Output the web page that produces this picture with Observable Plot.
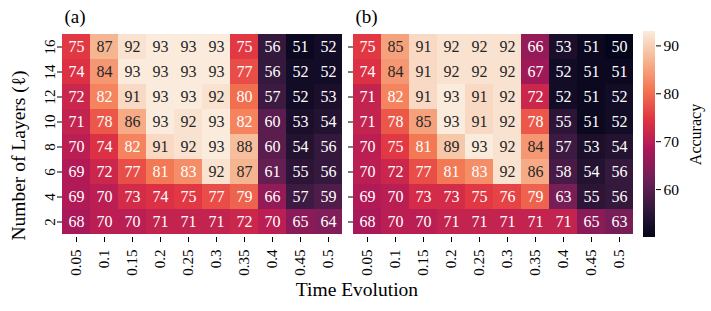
<!DOCTYPE html>
<html>
<head>
<meta charset="utf-8">
<script src="https://cdn.jsdelivr.net/npm/d3@7"></script>
<script src="https://cdn.jsdelivr.net/npm/@observablehq/plot@0.6"></script>
<style>
  body { margin: 0; background: #fff; }
  #wrap { position: relative; width: 711px; height: 311px; font-family: "Liberation Serif", "DejaVu Serif", serif; }
  #wrap svg { position: absolute; top: 0; }
  #wrap svg, #wrap svg text { font-family: "Liberation Serif", "DejaVu Serif", serif !important; }
  #xlabel { position: absolute; top: 279px; left: 257px; width: 200px; text-align: center; font-size: 19.5px; line-height: 22px; color: #000; }
</style>
</head>
<body>
<div id="wrap"></div>
<script>
const times = ["0.05", "0.1", "0.15", "0.2", "0.25", "0.3", "0.35", "0.4", "0.45", "0.5"];
const layers = ["16", "14", "12", "10", "8", "6", "4", "2"];
const accA = [
  [75, 87, 92, 93, 93, 93, 75, 56, 51, 52],
  [74, 84, 93, 93, 93, 93, 77, 56, 52, 52],
  [72, 82, 91, 93, 93, 92, 80, 57, 52, 53],
  [71, 78, 86, 93, 92, 93, 82, 60, 53, 54],
  [70, 74, 82, 91, 92, 93, 88, 60, 54, 56],
  [69, 72, 77, 81, 83, 92, 87, 61, 55, 56],
  [69, 70, 73, 74, 75, 77, 79, 66, 57, 59],
  [68, 70, 70, 71, 71, 71, 72, 70, 65, 64]
];
const accB = [
  [75, 85, 91, 92, 92, 92, 66, 53, 51, 50],
  [74, 84, 91, 92, 92, 92, 67, 52, 51, 51],
  [71, 82, 91, 93, 91, 92, 72, 52, 51, 52],
  [71, 78, 85, 93, 91, 92, 78, 55, 51, 52],
  [70, 75, 81, 89, 93, 92, 84, 57, 53, 54],
  [70, 72, 77, 81, 83, 92, 86, 58, 54, 56],
  [69, 70, 73, 73, 75, 76, 79, 63, 55, 56],
  [68, 70, 70, 71, 71, 71, 71, 71, 65, 63]
];
const colorTicks = [60, 70, 80, 90];
const colorDomain = [50, 93];

// seaborn "rocket" colormap approximated by its palette stops
const rocketStops = ["#03051a", "#35193e", "#701f57", "#ad1759", "#e13342", "#f37651", "#f6b48f", "#faebdd"];
const rocket = d3.piecewise(d3.interpolateRgb, rocketStops);

function lum(c) {
  const rgb = d3.rgb(c);
  const f = v => { v /= 255; return v <= 0.03928 ? v / 12.92 : Math.pow((v + 0.055) / 1.055, 2.4); };
  return 0.2126 * f(rgb.r) + 0.7152 * f(rgb.g) + 0.0722 * f(rgb.b);
}
const isLight = v => lum(rocket((v - colorDomain[0]) / (colorDomain[1] - colorDomain[0]))) > 0.408;

const table = m => layers.flatMap((l, i) => times.map((t, j) => ({t, l, v: m[i][j]})));

const font = "Liberation Serif";
const wrap = document.getElementById("wrap");

function panel(m, title, withLabel, left, width, marginLeft) {
  const data = table(m);
  const svg = Plot.plot({
    width, height: 311,
    marginLeft, marginRight: 3, marginTop: 31, marginBottom: 74,
    style: {fontFamily: font, fontSize: "15px", background: "transparent", color: "#000"},
    x: {domain: times, padding: 0, label: null},
    y: {domain: layers, padding: 0, label: null},
    color: {type: "linear", domain: colorDomain, interpolate: rocket},
    marks: [
      Plot.cell(data, {x: "t", y: "l", fill: "v", inset: 0, shapeRendering: "crispEdges"}),
      Plot.text(data.filter(d => !isLight(d.v)), {x: "t", y: "l", text: "v", fill: "white", fontSize: 16}),
      Plot.text(data.filter(d => isLight(d.v)), {x: "t", y: "l", text: "v", fill: "#262626", fontSize: 16}),
      Plot.axisX({tickRotate: -90, tickSize: 5, tickPadding: 7, label: null, fontSize: 15}),
      Plot.axisY({tickRotate: -90, tickSize: 5, tickPadding: 3, label: null, fontSize: 15,
                  tickFormat: withLabel ? d => d : () => ""}),
      Plot.text([title], {frameAnchor: "top-left", dy: -22, dx: 2, fontSize: 19, textAnchor: "start", fill: "#000"}),
      withLabel ? Plot.text(["Number of Layers (ℓ)"], {frameAnchor: "left", rotate: -90, textAnchor: "middle", dx: -44, dy: 21, fontSize: 19.5, fill: "#000"}) : null
    ]
  });
  svg.style.left = left + "px";
  wrap.appendChild(svg);
}

panel(accA, "(a)", true, 0, 345, 62);
panel(accB, "(b)", false, 340, 296, 13);

// colorbar
const step = 0.1;
const bands = d3.range(colorDomain[0], colorDomain[1], step);
const cbar = Plot.plot({
  width: 75, height: 311,
  marginLeft: 7, marginRight: 56, marginTop: 31, marginBottom: 74,
  style: {fontFamily: font, fontSize: "15px", background: "transparent", color: "#000"},
  y: {domain: colorDomain, label: null},
  color: {type: "linear", domain: colorDomain, interpolate: rocket},
  marks: [
    Plot.rect(bands, {y1: d => d, y2: d => Math.min(d + step * 1.5, colorDomain[1]), fill: d => d + step / 2, shapeRendering: "crispEdges"}),
    Plot.axisY({anchor: "right", ticks: colorTicks, tickSize: 5, tickPadding: 3, label: null, fontSize: 15.5}),
    Plot.text(["Accuracy"], {frameAnchor: "right", rotate: -90, textAnchor: "middle", dx: 40, fontSize: 16, fill: "#000"})
  ]
});
cbar.style.left = "636px";
wrap.appendChild(cbar);

const xl = document.createElement("div");
xl.id = "xlabel";
xl.textContent = "Time Evolution";
wrap.appendChild(xl);
</script>
</body>
</html>
